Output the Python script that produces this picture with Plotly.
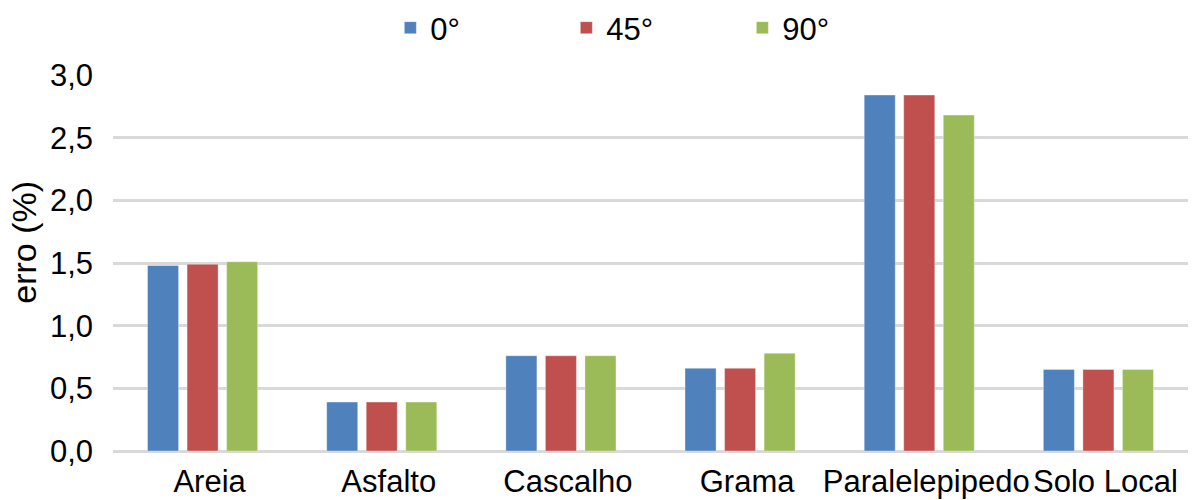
import plotly.graph_objects as go

# Superfícies avaliadas e erro (%) para cada ângulo
categorias = ["Areia", "Asfalto", "Cascalho", "Grama", "Paralelepipedo", "Solo Local"]
erro_0 = [1.48, 0.39, 0.76, 0.66, 2.84, 0.65]
erro_45 = [1.49, 0.39, 0.76, 0.66, 2.84, 0.65]
erro_90 = [1.51, 0.39, 0.76, 0.78, 2.68, 0.65]
ticks_y = [0.0, 0.5, 1.0, 1.5, 2.0, 2.5, 3.0]
ticks_y_txt = ["0,0", "0,5", "1,0", "1,5", "2,0", "2,5", "3,0"]

FONT = "Arial, Liberation Sans, sans-serif"

series = [
    ("0°", erro_0, "#4F81BD"),
    ("45°", erro_45, "#C0504D"),
    ("90°", erro_90, "#9BBB59"),
]

fig = go.Figure()
for nome, vals, cor in series:
    fig.add_trace(go.Bar(
        name=nome, x=categorias, y=vals,
        marker=dict(color=cor, line=dict(color="rgba(255,255,255,0.35)", width=1)),
    ))

fig.update_layout(
    width=1195, height=500,
    margin=dict(l=113, r=7, t=75, b=49, autoexpand=False),
    paper_bgcolor="white", plot_bgcolor="white",
    barmode="group", bargap=0.338, bargroupgap=0.215,
    font=dict(family=FONT, size=30, color="black"),
    showlegend=True,
    legend=dict(
        orientation="h", x=0.258, xanchor="left",
        yref="container", y=0.944, yanchor="middle",
        font=dict(size=31), entrywidth=131, entrywidthmode="pixels",
        bgcolor="rgba(0,0,0,0)", itemclick=False,
    ),
    xaxis=dict(
        showgrid=False, showline=False, zeroline=False, automargin=False,
        ticks="", tickangle=0, tickfont=dict(size=31),
        ticklabelstandoff=9, ticklabelshift=7,
    ),
    yaxis=dict(
        range=[0, 3.0], tickvals=ticks_y, ticktext=ticks_y_txt,
        showgrid=True, gridcolor="#D9D9D9", gridwidth=3,
        zeroline=True, zerolinecolor="#D9D9D9", zerolinewidth=3,
        showline=False, ticks="", tickfont=dict(size=31), automargin=False,
        ticklabelstandoff=19,
    ),
    annotations=[dict(
        text="erro (%)", textangle=-90, showarrow=False,
        xref="paper", yref="paper", x=-0.083, y=0.556,
        xanchor="center", yanchor="middle",
        font=dict(size=34, family=FONT),
    )],
)

fig.write_html("out.html")
